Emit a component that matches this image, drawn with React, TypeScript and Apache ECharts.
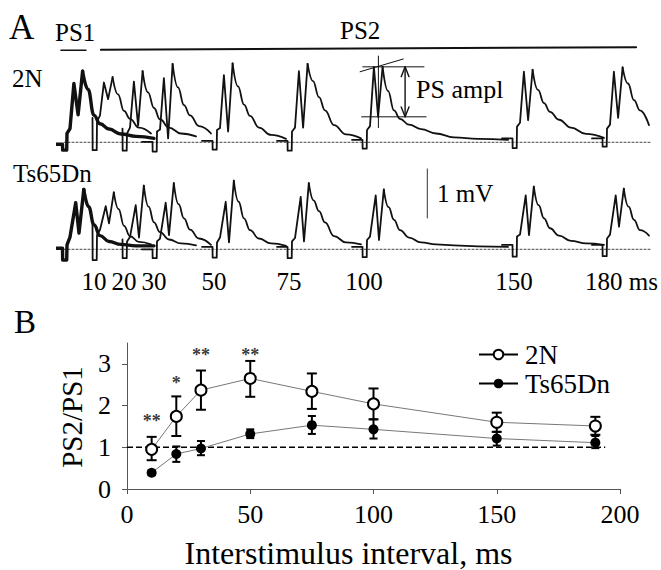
import React, { useEffect, useRef } from 'react';
import * as echarts from 'echarts';

// ---------------- Panel A: field potential traces ----------------
// PS2 stimulus times (ms after PS1) and bottom tick labels
const STIM_MS = [10, 20, 30, 50, 75, 100, 150, 180];
const TICK_MS = [10, 20, 30, 50, 75, 100, 150, 180];

// time offsets (ms) relative to each stimulus at which trace values were read
const DT_2N = [-4, -0.5, -0.45, 0.9, 1.0, 2.0, 3.3, 4.7, 6.2, 8, 10, 12, 15, 19, 24, 30, 38, 48];
const DT_TS = [-4, -0.5, -0.45, 0.9, 1.0, 2.0, 3.9, 5.0, 6.6, 8.2, 10, 12, 15, 19, 24, 30, 38, 48];
// index of the second population-spike peak (decay starts here)
const PEAK2_INDEX = 8;

const N = null;
// values in mV relative to the dotted baseline (null = not shown)
const PS1_2N = [-0.04, -0.04, -0.16, -0.16, 0.18, 0.28, 1.2, 0.56, 1.45, 1.08, 0.55, 0.38, 0.27, 0.17, 0.12, 0.08, N, N];
const PS2_2N = [
  [N, 0.5, -0.16, -0.16, 0.42, 0.55, 1.22, 0.88, 1.33, 0.98, 0.64, 0.48, 0.3, 0.18, N, N, N, N],
  [N, 0.28, -0.17, -0.17, 0.18, 0.3, 1.24, 0.34, 1.45, 1.02, 0.7, 0.47, 0.3, 0.18, 0.12, N, N, N],
  [0.01, 0.01, -0.19, -0.19, 0.22, 0.26, 1.31, 0.08, 1.6, 1.12, 0.76, 0.55, 0.33, 0.18, N, N, N, N],
  [0.03, 0.03, -0.15, -0.15, 0.25, 0.29, 1.37, 0.22, 1.61, 1.14, 0.77, 0.54, 0.3, 0.15, 0.07, N, N, N],
  [0.03, 0.03, -0.17, -0.17, 0.22, 0.3, 1.45, 0.3, 1.6, 1.25, 0.92, 0.65, 0.35, 0.16, 0.08, N, N, N],
  [0.05, 0.05, -0.13, -0.13, 0.25, 0.33, 1.54, 0.52, 1.54, 1.05, 0.65, 0.48, 0.36, 0.27, 0.18, 0.1, 0.07, 0.05],
  [0.08, 0.08, -0.12, -0.12, 0.32, 0.4, 1.44, 0.45, 1.48, 1.07, 0.8, 0.62, 0.46, 0.3, 0.17, 0.09, N, N],
  [0.08, 0.08, -0.09, -0.09, 0.28, 0.36, 1.44, 0.5, 1.53, 1.2, 0.86, 0.65, 0.35, N, N, N, N, N],
];
const PS1_TS = [0.02, 0.02, -0.22, -0.22, 0.09, 0.25, 0.95, 0.33, 1.22, 0.87, 0.5, 0.28, 0.16, 0.1, 0.07, 0.07, N, N];
const PS2_TS = [
  [N, 0.5, -0.22, -0.22, 0.29, 0.4, 0.88, 0.53, 1.16, 0.82, 0.48, 0.27, 0.15, 0.1, N, N, N, N],
  [N, 0.2, -0.18, -0.18, 0.16, 0.25, 0.9, 0.24, 1.3, 0.87, 0.55, 0.35, 0.2, 0.12, 0.08, N, N, N],
  [0.0, 0.0, -0.18, -0.18, 0.16, 0.22, 0.95, 0.29, 1.35, 0.92, 0.63, 0.4, 0.22, 0.09, N, N, N, N],
  [0.05, 0.05, -0.17, -0.17, 0.14, 0.24, 0.97, 0.14, 1.4, 0.97, 0.63, 0.39, 0.22, 0.12, 0.07, N, N, N],
  [0.05, 0.05, -0.18, -0.18, 0.16, 0.23, 1.07, 0.16, 1.35, 1.0, 0.78, 0.55, 0.27, 0.14, 0.1, N, N, N],
  [0.05, 0.05, -0.16, -0.16, 0.19, 0.26, 1.1, 0.19, 1.22, 0.86, 0.6, 0.39, 0.24, 0.14, 0.1, 0.08, 0.06, 0.05],
  [0.09, 0.09, -0.15, -0.15, 0.26, 0.3, 1.1, 0.29, 1.28, 0.9, 0.63, 0.43, 0.28, 0.17, 0.12, 0.09, N, N],
  [0.09, 0.09, -0.14, -0.14, 0.22, 0.3, 1.1, 0.46, 1.24, 0.87, 0.6, 0.39, 0.28, N, N, N, N, N],
];

// dotted baselines (ms extent)
const BASELINE_MS = [0, 196];
// stimulus bars above the traces: [start ms, end ms, mV start, mV end]
const PS1_BAR = [-1, 7.3, 1.88, 1.88];
const PS2_BAR = [12.3, 190.7, 1.89, 1.94];
// PS amplitude measurement on the 100 ms 2N response (ms, mV)
const AMPL_TOP = [[99.6, 1.54], [120, 1.54]];
const AMPL_BOTTOM = [[99.2, 0.52], [120.7, 0.52]];
const AMPL_TANGENT = [[98.7, 1.44], [113.1, 1.7]];
const AMPL_VERTICAL = [[104.8, 1.76], [104.8, 0.3]];
const AMPL_ARROW = [[113.7, 0.52], [113.7, 1.54]];
const AMPL_HEAD_UP = [[112.4, 1.34], [113.7, 1.54], [115, 1.34]];
const AMPL_HEAD_DOWN = [[112.4, 0.72], [113.7, 0.52], [115, 0.72]];
// 1 mV scale bar (ms, mV)
const SCALE_BAR = [[121.1, 0.64], [121.1, 1.64]];

// ---------------- Panel B: paired-pulse ratio ----------------
const ISI_MS = [10, 20, 30, 50, 75, 100, 150, 190];
const MEAN_2N = [0.95, 1.74, 2.37, 2.65, 2.34, 2.04, 1.6, 1.51];
const HI_2N = [1.25, 2.22, 2.84, 3.07, 2.77, 2.41, 1.83, 1.73];
const LO_2N = [0.69, 1.27, 1.9, 2.21, 1.92, 1.67, 1.37, 1.3];
const MEAN_TS = [0.39, 0.84, 0.97, 1.32, 1.53, 1.43, 1.21, 1.11];
const HI_TS = [0.45, 1.02, 1.15, 1.43, 1.75, 1.67, 1.37, 1.27];
const LO_TS = [0.33, 0.65, 0.81, 1.22, 1.32, 1.21, 1.04, 0.98];
const SIG_X = [10, 20, 30, 50];
const SIG_Y = [1.7, 2.62, 3.28, 3.28];
const SIG_MARK = ['**', '*', '**', '**'];
const REF_LINE = [[0, 1], [194, 1]];
const B_Y_TICKS = [0, 1, 2, 3];

const SERIF = 'Liberation Serif';

function trace(t0: number, dts: number[], vals: (number | null)[], from: number, to: number) {
  const out: number[][] = [];
  dts.forEach((d, i) => {
    const v = vals[i];
    if (i >= from && i <= to && v !== null && v !== undefined) out.push([t0 + d, v]);
  });
  return out;
}

function plainLine(name: string, grid: number, data: number[][], width: number, extra: any = {}) {
  return {
    type: 'line',
    name,
    xAxisIndex: grid,
    yAxisIndex: grid,
    data,
    symbol: 'none',
    silent: true,
    z: 3,
    smooth: extra.smooth || false,
    smoothMonotone: extra.smooth ? 'x' : undefined,
    lineStyle: { color: '#111', width, join: 'round', cap: 'round', ...(extra.lineStyle || {}) },
  };
}

function pushTrace(series: any[], name: string, grid: number, t0: number, dts: number[], vals: (number | null)[], width: number) {
  series.push(plainLine(name + ' spike', grid, trace(t0, dts, vals, 0, PEAK2_INDEX), width));
  series.push(plainLine(name + ' decay', grid, trace(t0, dts, vals, PEAK2_INDEX, dts.length - 1), width, { smooth: 0.45 }));
}

function errorSeries(name: string, lo: number[], hi: number[], halfCap: number, width: number) {
  return {
    type: 'custom',
    name,
    xAxisIndex: 2,
    yAxisIndex: 2,
    silent: true,
    z: 2,
    data: ISI_MS.map((x, i) => [x, lo[i], hi[i]]),
    encode: { x: 0, y: [1, 2] },
    renderItem: (_p: any, api: any) => {
      const x = api.value(0);
      const a = api.coord([x, api.value(1)]);
      const b = api.coord([x, api.value(2)]);
      const st = { stroke: '#000', lineWidth: width };
      return {
        type: 'group',
        children: [
          { type: 'line', shape: { x1: a[0], y1: a[1], x2: b[0], y2: b[1] }, style: st },
          { type: 'line', shape: { x1: a[0] - halfCap, y1: a[1], x2: a[0] + halfCap, y2: a[1] }, style: st },
          { type: 'line', shape: { x1: b[0] - halfCap, y1: b[1], x2: b[0] + halfCap, y2: b[1] }, style: st },
        ],
      };
    },
  };
}

function txt(text: string, x: number, y: number, size: number, rotation = 0, align = 'left') {
  return {
    type: 'text',
    x,
    y,
    rotation,
    silent: true,
    style: {
      text,
      fontSize: size,
      fontFamily: SERIF,
      fill: '#000',
      align,
      verticalAlign: 'middle',
      textAlign: align,
      textVerticalAlign: 'middle',
    },
  };
}

function buildOption() {
  const series: any[] = [];
  // baselines
  series.push(plainLine('baseline 2N', 0, BASELINE_MS.map((t) => [t, 0]), 1, { lineStyle: { type: [2, 2], color: '#444' } }));
  series.push(plainLine('baseline Ts65Dn', 1, BASELINE_MS.map((t) => [t, 0]), 1, { lineStyle: { type: [2, 2], color: '#444' } }));
  // traces
  pushTrace(series, '2N PS1', 0, 0, DT_2N, PS1_2N, 3.4);
  PS2_2N.forEach((vals, k) => pushTrace(series, '2N PS2 ' + STIM_MS[k], 0, STIM_MS[k], DT_2N, vals, 1.8));
  pushTrace(series, 'Ts65Dn PS1', 1, 0, DT_TS, PS1_TS, 3.4);
  PS2_TS.forEach((vals, k) => pushTrace(series, 'Ts65Dn PS2 ' + STIM_MS[k], 1, STIM_MS[k], DT_TS, vals, 1.8));
  // stimulus bars
  series.push(plainLine('PS1 bar', 0, [[PS1_BAR[0], PS1_BAR[2]], [PS1_BAR[1], PS1_BAR[3]]], 1.6));
  series.push(plainLine('PS2 bar', 0, [[PS2_BAR[0], PS2_BAR[2]], [PS2_BAR[1], PS2_BAR[3]]], 2));
  // amplitude annotation
  [AMPL_TOP, AMPL_BOTTOM, AMPL_TANGENT, AMPL_VERTICAL, AMPL_ARROW, AMPL_HEAD_UP, AMPL_HEAD_DOWN].forEach((d, i) =>
    series.push(plainLine('ampl ' + i, 0, d, i >= 4 ? 1.4 : 1))
  );
  series.push(plainLine('scale bar', 1, SCALE_BAR, 1, { lineStyle: { color: '#333' } }));

  // panel B
  series.push({
    type: 'line', name: 'ref', xAxisIndex: 2, yAxisIndex: 2, data: REF_LINE, symbol: 'none', silent: true, z: 1,
    lineStyle: { color: '#000', width: 1.6, type: [6, 3] },
  });
  series.push(errorSeries('err 2N', LO_2N, HI_2N, 5, 2));
  series.push(errorSeries('err Ts65Dn', LO_TS, HI_TS, 4, 2));
  series.push({
    type: 'line', name: '2N', xAxisIndex: 2, yAxisIndex: 2,
    data: ISI_MS.map((x, i) => [x, MEAN_2N[i]]),
    symbol: 'emptyCircle', symbolSize: 11, z: 4, silent: true,
    itemStyle: { color: '#000', borderWidth: 1.6 },
    lineStyle: { color: '#777', width: 1 },
  });
  series.push({
    type: 'line', name: 'Ts65Dn', xAxisIndex: 2, yAxisIndex: 2,
    data: ISI_MS.map((x, i) => [x, MEAN_TS[i]]),
    symbol: 'circle', symbolSize: 10, z: 4, silent: true,
    itemStyle: { color: '#000' },
    lineStyle: { color: '#777', width: 1 },
  });
  series.push({
    type: 'scatter', name: 'sig', xAxisIndex: 2, yAxisIndex: 2, silent: true, z: 5,
    data: SIG_X.map((x, i) => [x, SIG_Y[i], SIG_MARK[i]]),
    symbolSize: 1,
    itemStyle: { color: 'rgba(0,0,0,0)' },
    label: {
      show: true, position: 'inside', formatter: (p: any) => p.data[2],
      fontSize: 18, fontWeight: 'bold', fontFamily: SERIF, color: '#000', offset: [0, 3],
    },
  });

  return {
    animation: false,
    backgroundColor: '#fff',
    textStyle: { fontFamily: SERIF },
    grid: [
      { left: 58, top: 44.3, width: 600, height: 112.7 },
      { left: 58, top: 161.1, width: 600, height: 102.9 },
      { left: 127, top: 343, width: 493, height: 148.7 },
    ],
    xAxis: [
      { gridIndex: 0, type: 'value', min: -2, max: 198, show: false },
      {
        gridIndex: 1, type: 'value', min: -2, max: 198,
        axisLine: { show: false, onZero: false }, axisTick: { show: false }, splitLine: { show: false },
        axisLabel: {
          customValues: TICK_MS,
          formatter: (v: number) => (v === 180 ? '{pad|}180 ms' : String(v)),
          rich: { pad: { width: 35 } },
          fontSize: 25, fontFamily: SERIF, color: '#000', margin: 5,
        },
      },
      {
        gridIndex: 2, type: 'value', min: 0, max: 200, interval: 50,
        axisLine: { show: true, onZero: false, lineStyle: { color: '#555', width: 1 } },
        axisTick: { show: true, length: 5, lineStyle: { color: '#555' } },
        splitLine: { show: false },
        axisLabel: { fontSize: 26, fontFamily: SERIF, color: '#000', margin: 12 },
        name: 'Interstimulus interval, ms', nameLocation: 'middle', nameGap: 48, nameMoveOverlap: false,
        nameTextStyle: { fontSize: 32, fontFamily: SERIF, color: '#000', padding: [0, 50, 0, 0] },
      },
    ],
    yAxis: [
      { gridIndex: 0, type: 'value', min: -0.3, max: 2.0, show: false },
      { gridIndex: 1, type: 'value', min: -0.3, max: 1.8, show: false },
      {
        gridIndex: 2, type: 'value', min: 0, max: 3.5, interval: 1,
        axisLine: { show: true, onZero: false, lineStyle: { color: '#555', width: 1 } },
        axisTick: { show: true, length: 5, customValues: B_Y_TICKS, lineStyle: { color: '#555' } },
        splitLine: { show: false },
        axisLabel: { customValues: B_Y_TICKS, fontSize: 26, fontFamily: SERIF, color: '#000', margin: 16 },
      },
    ],
    legend: {
      data: ['2N', 'Ts65Dn'],
      orient: 'vertical', left: 473, top: 336,
      itemWidth: 39, itemHeight: 12, itemGap: 2,
      selectedMode: false,
      textStyle: { fontFamily: SERIF, fontSize: 27, color: '#000', padding: [0, 0, 0, 2] },
      lineStyle: { color: '#000', width: 2 },
    },
    graphic: [
      txt('A', 9, 27, 35),
      txt('PS1', 55, 32, 25),
      txt('PS2', 340, 30, 25),
      txt('2N', 12, 78, 25),
      txt('Ts65Dn', 13, 173, 25),
      txt('PS ampl', 416, 89, 26),
      txt('1 mV', 437, 193, 25),
      txt('B', 14, 322, 33),
      txt('PS2/PS1', 72, 417, 29, Math.PI / 2, 'center'),
    ],
    series,
  };
}

export default function App() {
  const ref = useRef<HTMLDivElement>(null);
  useEffect(() => {
    const chart = echarts.init(ref.current as HTMLDivElement, null, { renderer: 'svg' });
    chart.setOption(buildOption() as any);
    return () => chart.dispose();
  }, []);
  return (
    <div
      ref={ref}
      style={{ position: 'absolute', left: 0, top: 0, width: 661, height: 570, background: '#fff' }}
    />
  );
}
